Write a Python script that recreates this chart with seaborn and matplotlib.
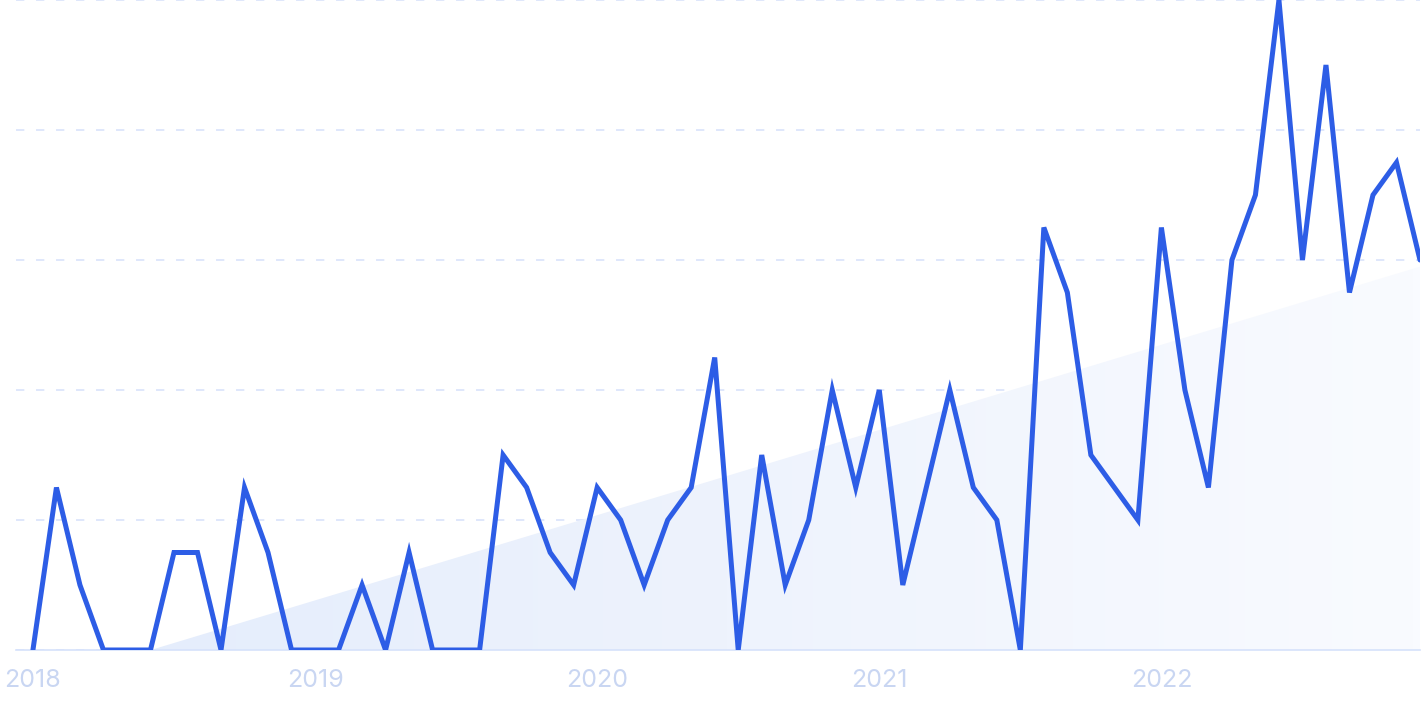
import numpy as np
import pandas as pd
import matplotlib
matplotlib.use("Agg")
import matplotlib.pyplot as plt
import seaborn as sns
from matplotlib.colors import LinearSegmentedColormap

# Monthly values, Jan 2018 .. Dec 2022
values = [0, 5, 2, 0, 0, 0, 3, 3, 0, 5, 3, 0,
          0, 0, 2, 0, 3, 0, 0, 0, 6, 5, 3, 2,
          5, 4, 2, 4, 5, 9, 0, 6, 2, 4, 8, 5,
          8, 2, 5, 8, 5, 4, 0, 13, 11, 6, 5, 4,
          13, 8, 5, 12, 14, 20, 12, 18, 11, 14, 15, 12]
year_labels = ["2018", "2019", "2020", "2021", "2022"]
year_ticks = [0, 12, 24, 36, 48]

df = pd.DataFrame({"month": np.arange(len(values)), "value": values})

sns.set_theme(style="white")
plt.rcParams["font.family"] = ["Inter", "DejaVu Sans"]

fig = plt.figure(figsize=(14.25, 7.12), dpi=100)
ax = fig.add_axes([16/1425, 62/712, (1420-16)/1425, 650/712])

# linear trend, clipped at zero, with gradient fill
x = df["month"].to_numpy(dtype=float)
coef = np.polyfit(x, df["value"], 1)
xs = np.linspace(x.min(), x.max(), 400)
trend = np.clip(np.polyval(coef, xs), 0, None)
poly = ax.fill_between(xs, 0, trend, color="none", lw=0, zorder=1)
cmap = LinearSegmentedColormap.from_list("g", ["#e3ecfc", "#eef3fd", "#f9fbff"])
grad = np.linspace(0, 1, 256).reshape(1, -1)
img = ax.imshow(grad, cmap=cmap, aspect="auto", extent=[x.min(), x.max(), 0, 20],
                zorder=1, interpolation="bicubic")
img.set_clip_path(poly.get_paths()[0], transform=ax.transData)

sns.lineplot(data=df, x="month", y="value", ax=ax, color="#2d5de6", lw=3.6,
             zorder=3, solid_joinstyle="miter")

ax.set_xlim(-0.72, 59)
ax.set_ylim(0, 20)
ax.set_yticks([0, 4, 8, 12, 16, 20])
ax.yaxis.grid(True, color="#d9e3fb", lw=1.2, linestyle=(0, (5, 7)), zorder=0)
ax.xaxis.grid(False)
ax.set_yticklabels([])
ax.tick_params(axis="y", length=0)
ax.set_xticks(year_ticks)
ax.set_xticklabels(year_labels)
ax.tick_params(axis="x", length=0, pad=14, labelsize=18, labelcolor="#c9d6f2")
ax.set_xlabel("")
ax.set_ylabel("")
for s in ["top", "right", "left"]:
    ax.spines[s].set_visible(False)
ax.spines["bottom"].set_color("#d6e2fb")
ax.spines["bottom"].set_linewidth(1.2)
ax.set_facecolor("white")

fig.savefig("out.png", dpi=100, facecolor="white")
